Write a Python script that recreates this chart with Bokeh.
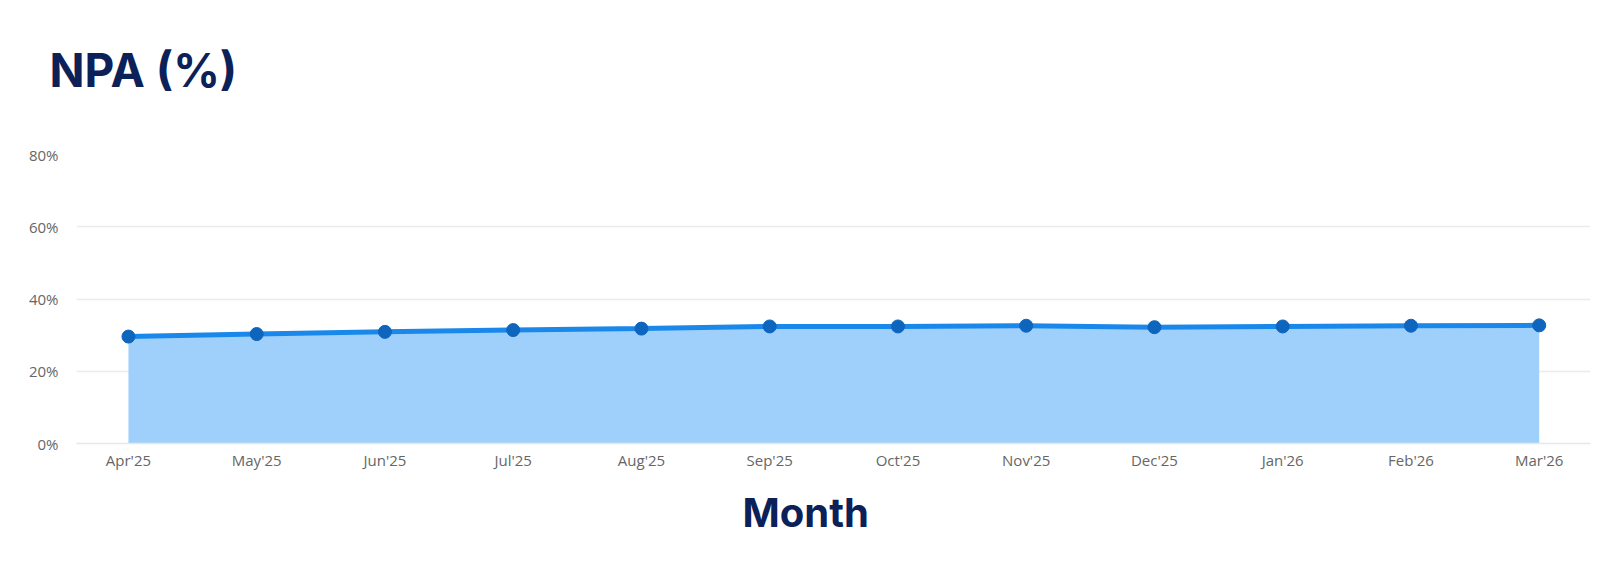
from bokeh.plotting import figure
from bokeh.models import Range1d, FixedTicker, Title, ColumnDataSource
from bokeh.embed import file_html
from bokeh.resources import INLINE

months = ["Apr'25", "May'25", "Jun'25", "Jul'25", "Aug'25", "Sep'25",
          "Oct'25", "Nov'25", "Dec'25", "Jan'26", "Feb'26", "Mar'26"]
npa_pct = [29.6, 30.3, 30.9, 31.4, 31.8, 32.4, 32.4, 32.6, 32.2, 32.4, 32.6, 32.7]
y_ticks = [0, 20, 40, 60, 80]

idx = list(range(len(months)))
src = ColumnDataSource(dict(x=idx, y=npa_pct, base=[0] * len(idx)))

p = figure(width=1595, height=561, output_backend="svg", toolbar_location=None,
           x_range=Range1d(-0.405, 11.40), y_range=Range1d(0, 80),
           min_border_left=76, min_border_right=5, min_border_top=154, min_border_bottom=118)
p.outline_line_color = None
p.background_fill_color = "white"
p.border_fill_color = "white"

p.varea(x="x", y1="base", y2="y", source=src, fill_color="#9fd0fc", fill_alpha=1.0)
p.line(x="x", y="y", source=src, line_color="#1a88ea", line_width=5)
p.scatter(x="x", y="y", source=src, size=13, fill_color="#0e65bd", line_color="#0e65bd")

p.xaxis.ticker = FixedTicker(ticks=idx)
p.xaxis.major_label_overrides = {i: m for i, m in enumerate(months)}
p.yaxis.ticker = FixedTicker(ticks=y_ticks)
p.yaxis.major_label_overrides = {v: f"{v}%" for v in y_ticks}

for ax in (p.xaxis[0], p.yaxis[0]):
    ax.major_tick_line_color = None
    ax.minor_tick_line_color = None
    ax.major_label_text_color = "#666666"
    ax.major_label_text_font = "Open Sans"
    ax.major_label_text_font_size = "15px"
p.xaxis.axis_line_color = "#e8e8e8"
p.xaxis.axis_line_width = 1.5
p.yaxis.axis_line_color = None
p.xaxis.major_label_standoff = 0
p.yaxis.major_label_standoff = 12

p.xgrid.grid_line_color = None
p.ygrid.grid_line_color = "#ebebeb"
p.ygrid.grid_line_width = 1.5

p.title.text = ""

# blank spacer panel between the frame and the heading
p.add_layout(Title(text=" ", text_font_size="20px", standoff=28, text_color="white"), "above")
p.add_layout(Title(text="NPA (%)", align="left", offset=-27, standoff=10,
                   text_font="Inter", text_font_style="bold", text_font_size="46px",
                   text_color="#0b2157"), "above")

p.add_layout(Title(text="Month", align="left", offset=666, standoff=27,
                   text_font="Inter", text_font_style="bold", text_font_size="40px",
                   text_color="#0b2157"), "below")

open("out.html", "w").write(file_html(p, INLINE))
